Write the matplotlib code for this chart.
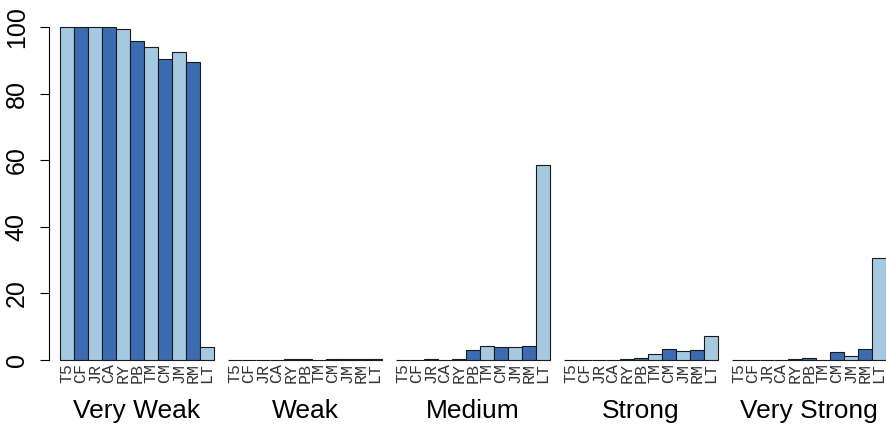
import matplotlib
matplotlib.use("Agg")
import matplotlib.pyplot as plt
import matplotlib.transforms as mtransforms

methods = ["T5", "CF", "JR", "CA", "RY", "PB", "TM", "CM", "JM", "RM", "LT"]
groups = ["Very Weak", "Weak", "Medium", "Strong", "Very Strong"]

very_weak = [100, 100, 100, 100, 99.5, 95.9, 94.1, 90.3, 92.4, 89.5, 3.9]
weak = [0.0, 0.0, 0.0, 0.0, 0.2, 0.2, 0.1, 0.2, 0.2, 0.2, 0.2]
medium = [0.0, 0.1, 0.3, 0.1, 0.4, 3.0, 4.1, 3.8, 3.9, 4.2, 58.5]
strong = [0.0, 0.0, 0.0, 0.0, 0.2, 0.5, 1.8, 3.4, 2.6, 2.9, 7.1]
very_strong = [0.0, 0.0, 0.0, 0.0, 0.2, 0.7, 0.0, 2.5, 1.1, 3.4, 30.5]

series = [very_weak, weak, medium, strong, very_strong]

light = "#a5c9e1"
dark = "#3b6bb0"

W, H = 887, 426
fig = plt.figure(figsize=(W / 100, H / 100), dpi=100)
ax = fig.add_axes([49 / W, (H - 360) / H, (W - 49) / W, 333 / H])

xs, hs, cs, labels = [], [], [], []
for g, vals in enumerate(series):
    for i, v in enumerate(vals):
        xs.append(g * 12 + i + 0.5)
        hs.append(v)
        cs.append(light if i % 2 == 0 else dark)
        labels.append(methods[i])

ax.bar(xs, hs, width=1.0, color=cs, edgecolor="#1a1a1a", linewidth=0.8, clip_on=False)

ax.set_xlim(-11 / 14, (887 - 60) / 14)
ax.set_ylim(0, 100)

for s in ["top", "right", "bottom"]:
    ax.spines[s].set_visible(False)
ax.spines["left"].set_linewidth(0.8)

ax.set_yticks([0, 20, 40, 60, 80, 100])
ax.set_yticklabels(["0", "20", "40", "60", "80", "100"], rotation=90, va="center",
                   fontsize=18, family="Liberation Sans")
ax.tick_params(axis="y", length=6.5, width=0.8, pad=8)

ax.set_xticks(xs)
ax.set_xticklabels(labels, rotation=90, fontsize=12, family="Liberation Mono", color="#333333")
ax.tick_params(axis="x", length=0, pad=2.5)

trans = mtransforms.blended_transform_factory(ax.transData, ax.transAxes)
for g, name in enumerate(groups):
    ax.text(g * 12 + 5.5, -0.152, name, transform=trans, ha="center", va="center",
            fontsize=19, family="Liberation Sans")

fig.savefig("out.png", dpi=100)
